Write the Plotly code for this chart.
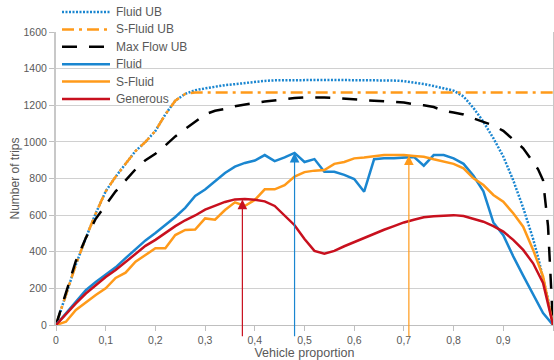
import plotly.graph_objects as go

# shared x grid for the measured series (step 0.02)
x_vals = [round(i * 0.02, 2) for i in range(51)]
# upper bounds have extra points near 1 where they drop steeply
x_ub = [round(i * 0.02, 2) for i in range(49)] + [0.97, 0.98, 0.99, 1.0]

fluid_ub = [0, 170, 330, 475, 610, 730, 810, 880, 950, 1000, 1060, 1150, 1225,
            1262, 1282, 1292, 1302, 1310, 1315, 1322, 1328, 1333, 1336, 1337, 1338,
            1338, 1338, 1338, 1338, 1338, 1338, 1338, 1338, 1337, 1335, 1332, 1325,
            1316, 1305, 1292, 1280, 1248, 1185, 1110, 1020, 920, 790, 640, 470,
            370, 260, 140, 0]
s_fluid_ub = [0, 170, 330, 475, 610, 730, 810, 880, 950, 1000, 1060, 1150, 1225,
              1262, 1270, 1270, 1270, 1270, 1270, 1270, 1270, 1270, 1270, 1270, 1270,
              1270, 1270, 1270, 1270, 1270, 1270, 1270, 1270, 1270, 1270, 1270, 1270,
              1270, 1270, 1270, 1270, 1270, 1270, 1270, 1270, 1270, 1270, 1270, 1270,
              1270, 1270, 1270, 1270]
max_flow_ub = [0, 180, 350, 475, 580, 655, 730, 790, 850, 900, 935, 980, 1030,
               1070, 1110, 1150, 1170, 1180, 1195, 1205, 1212, 1220, 1228, 1235, 1240,
               1243, 1245, 1243, 1240, 1235, 1232, 1228, 1225, 1222, 1218, 1215, 1205,
               1200, 1190, 1170, 1160, 1150, 1128, 1110, 1090, 1060, 1015, 965, 890,
               850, 790, 540, 0]

fluid = [0, 64, 130, 190, 235, 273, 315, 365, 415, 462, 502, 545, 590, 640, 705,
         740, 785, 830, 865, 885, 898, 928, 895, 915, 940, 890, 906, 837, 837, 820,
         797, 728, 905, 910, 910, 915, 918, 870, 928, 928, 910, 880, 815, 730, 560,
         490, 375, 270, 165, 65, 0]
s_fluid = [0, 18, 82, 125, 164, 200, 257, 286, 346, 382, 419, 419, 491, 519, 521,
           582, 575, 628, 670, 650, 683, 741, 741, 764, 810, 835, 843, 846, 880, 890,
           910, 915, 920, 928, 928, 928, 923, 919, 905, 893, 880, 856, 801, 764, 710,
           673, 610, 537, 410, 265, 0]
generous = [0, 60, 118, 172, 218, 262, 300, 343, 388, 432, 465, 502, 540, 572, 598,
            630, 652, 672, 686, 688, 684, 675, 650, 600, 545, 470, 405, 390, 405, 430,
            453, 475, 498, 520, 540, 560, 575, 588, 594, 598, 600, 595, 580, 564, 540,
            510, 465, 410, 337, 230, 0]

# arrows marking the peak of each solution
peak_x = [0.375, 0.48, 0.71]
peak_y = [685, 940, 926]

x_ticks = [0, 0.1, 0.2, 0.3, 0.4, 0.5, 0.6, 0.7, 0.8, 0.9, 1]
x_ticktext = ["0", "0,1", "0,2", "0,3", "0,4", "0,5", "0,6", "0,7", "0,8", "0,9", "1"]

BLUE = "#1a86d0"
ORANGE = "#ff9a1a"
RED = "#c8101e"
GREY_TXT = "#595959"

W, H = 554, 360
ML, MR, MT, MB = 56, 1, 32, 35
plot_w, plot_h = W - ML - MR, H - MT - MB

fig = go.Figure()
fig.add_trace(go.Scatter(x=x_ub, y=fluid_ub, name="Fluid UB", mode="lines",
                         line=dict(color=BLUE, width=2.5, dash="2px,1.5px")))
fig.add_trace(go.Scatter(x=x_ub, y=s_fluid_ub, name="S-Fluid UB", mode="lines",
                         line=dict(color=ORANGE, width=2.5, dash="12px,5px,3px,5px")))
fig.add_trace(go.Scatter(x=x_ub, y=max_flow_ub, name="Max Flow UB", mode="lines",
                         line=dict(color="black", width=2.5, dash="15px,12px")))
fig.add_trace(go.Scatter(x=x_vals, y=fluid, name="Fluid", mode="lines",
                         line=dict(color=BLUE, width=2.5)))
fig.add_trace(go.Scatter(x=x_vals, y=s_fluid, name="S-Fluid", mode="lines",
                         line=dict(color=ORANGE, width=2.5)))
fig.add_trace(go.Scatter(x=x_vals, y=generous, name="Generous", mode="lines",
                         line=dict(color=RED, width=2.5)))

for px_, py_, col in zip(peak_x, peak_y, [RED, BLUE, ORANGE]):
    fig.add_annotation(x=px_, y=py_, ax=px_, ay=-70, xref="x", yref="y",
                       axref="x", ayref="y", text="", showarrow=True,
                       arrowhead=2, arrowsize=1.6, arrowwidth=1.2, arrowcolor=col)

# legend drawn by hand (tighter rows and longer sample lines than plotly's own)
def to_paper(px_, py_):
    return (px_ - ML) / plot_w, (H - MB - py_) / plot_h

for i, tr in enumerate(fig.data):
    row_y = 12 + 17.4 * i
    x0, y0 = to_paper(62, row_y)
    x1, _ = to_paper(110, row_y)
    xt, _ = to_paper(114, row_y)
    fig.add_shape(type="line", xref="paper", yref="paper", x0=x0, x1=x1, y0=y0, y1=y0,
                  line=dict(color=tr.line.color, width=2.5, dash=tr.line.dash))
    fig.add_annotation(x=xt, y=y0, xref="paper", yref="paper", text=tr.name,
                       showarrow=False, xanchor="left", yanchor="middle",
                       font=dict(size=12, color=GREY_TXT))

fig.update_layout(
    width=W, height=H,
    margin=dict(l=ML, r=MR, t=MT, b=MB),
    paper_bgcolor="white", plot_bgcolor="white",
    font=dict(family="Liberation Sans, Arial, sans-serif", size=12, color=GREY_TXT),
    showlegend=False,
)
fig.update_xaxes(range=[0, 1], tickvals=x_ticks, ticktext=x_ticktext,
                 showgrid=False, zeroline=False, showline=True, automargin=False,
                 linecolor="#bfbfbf", linewidth=1, ticks="outside", ticklen=5,
                 tickcolor="#bfbfbf", tickfont=dict(size=10.5),
                 title=dict(text="Vehicle proportion", standoff=7, font=dict(size=12.5)))
fig.update_yaxes(range=[0, 1600], dtick=200, showgrid=True, gridcolor="#d0d0d0",
                 zeroline=False, showline=True, linecolor="#c8c8c8", linewidth=2,
                 mirror=True, ticks="outside", ticklen=5, tickcolor="#bfbfbf",
                 tickfont=dict(size=10.5), automargin=False,
                 title=dict(text="Number of trips", standoff=1, font=dict(size=12)))

# drop the page margin so the figure sits at the window's top-left corner
fig.write_html("out.html", config={"displayModeBar": False},
               post_script="document.body.style.margin='0';")
